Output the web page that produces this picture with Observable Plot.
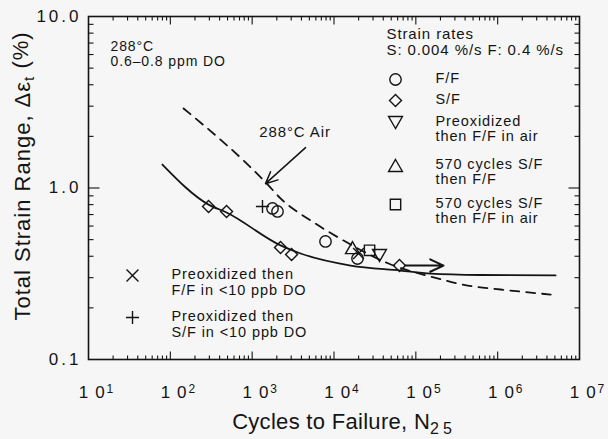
<!DOCTYPE html>
<html><head><meta charset="utf-8">
<script src="https://cdn.jsdelivr.net/npm/d3@7"></script>
<script src="https://cdn.jsdelivr.net/npm/@observablehq/plot@0.6"></script>
<style>
html,body{margin:0;padding:0;background:#f6f6f6;}
</style></head>
<body><div id="chart"></div>
<script>
// ---- data ----
const solidCycles = [80, 293, 486, 2220, 3910, 15960, 65200, 151700, 619000, 5100000];
const solidStrain = [1.37, 0.80, 0.72, 0.463, 0.415, 0.353, 0.330, 0.317, 0.311, 0.309];

const airCycles = [145, 1540, 2220, 5640, 13100, 46400, 165000, 430000, 1090000, 4450000];
const airStrain = [2.91, 1.05, 0.87, 0.63, 0.494, 0.363, 0.301, 0.270, 0.256, 0.239];

const ffCycles = [1773, 2040, 7870, 19370];
const ffStrain = [0.76, 0.73, 0.488, 0.388];

const sfCycles = [293, 486, 2220, 3030, 63100];
const sfStrain = [0.78, 0.73, 0.45, 0.41, 0.353];

const preoxAirCycles = [35950];
const preoxAirStrain = [0.415];

const cyc570FFCycles = [16800];
const cyc570FFStrain = [0.437];

const cyc570AirCycles = [27200];
const cyc570AirStrain = [0.433];

const preoxFFLowCycles = [19950];
const preoxFFLowStrain = [0.415];

const preoxSFLowCycles = [1337];
const preoxSFLowStrain = [0.78];

const runoutStart = [63100];
const runoutEnd = [217800];
const runoutStrain = [0.353];

const airArrowFrom = [4490, 1.72];
const airArrowTo = [1455, 1.06];
const airLabel = ["288°C Air"];
const airLabelAt = [3340, 2.11];

const xTickValues = [1e1, 1e2, 1e3, 1e4, 1e5, 1e6, 1e7];
const xTickExps = ["1", "2", "3", "4", "5", "6", "7"];
const yTickValues = [0.1, 1, 10];
const yTickLabels = ["0.1", "1.0", "10.0"];

const xTitle = "Cycles to Failure, N25";
const yTitle = "Total Strain Range, Δεt (%)";
const condLines = ["288°C", "0.6–0.8 ppm DO"];
const rateLines = ["Strain rates", "S: 0.004 %/s F: 0.4 %/s"];
const legendTop = [
  {symbol: "circle", label: "F/F"},
  {symbol: "diamond2", label: "S/F"},
  {symbol: "triangle2", rotate: 180, label: "Preoxidized\nthen F/F in air"},
  {symbol: "triangle2", label: "570 cycles S/F\nthen F/F"},
  {symbol: "square2", label: "570 cycles S/F\nthen F/F in air"}
];
const legendBottom = [
  {symbol: "times", label: "Preoxidized then\nF/F in <10 ppb DO"},
  {symbol: "plus", label: "Preoxidized then\nS/F in <10 ppb DO"}
];

// ---- helpers ----
const INK = "#141414";
const BG = "#f6f6f6";
const FONT = '"Liberation Sans", Arial, Helvetica, sans-serif';
const W = 608, H = 439, ML = 88, MR = 29, MT = 16, MB = 80;
const pts = (c, s) => c.map((v, i) => ({c: v, s: s[i]}));
const tk = (dx, dy) => ({draw(ctx) { ctx.moveTo(0, 0); ctx.lineTo(dx, dy); }});
const at = (px, py) => ({frameAnchor: "top-left", dx: px - ML, dy: py - MT});

const xMinor = [], yMinor = [];
for (let e = 1; e < 7; e++) for (let k = 2; k < 10; k++) xMinor.push(k * 10 ** e);
for (let e = -1; e < 1; e++) for (let k = 2; k < 10; k++) yMinor.push(k * 10 ** e);
const xMajorInner = xTickValues.slice(1, -1);
const yMajorInner = yTickValues.slice(1, -1);

const tickStyle = {stroke: INK, fill: "none", strokeWidth: 1.1};
const mk = {stroke: INK, fill: "none", strokeWidth: 1.4};

const marks = [
  Plot.frame({stroke: INK, strokeWidth: 1.6}),
  Plot.dot(xMinor, {x: d => d, frameAnchor: "bottom", symbol: tk(0, -4), ...tickStyle}),
  Plot.dot(xMinor, {x: d => d, frameAnchor: "top", symbol: tk(0, 4), ...tickStyle}),
  Plot.dot(xMajorInner, {x: d => d, frameAnchor: "bottom", symbol: tk(0, -8), ...tickStyle}),
  Plot.dot(xMajorInner, {x: d => d, frameAnchor: "top", symbol: tk(0, 8), ...tickStyle}),
  Plot.dot(yMinor, {y: d => d, frameAnchor: "left", symbol: tk(5, 0), ...tickStyle}),
  Plot.dot(yMinor, {y: d => d, frameAnchor: "right", symbol: tk(-5, 0), ...tickStyle}),
  Plot.dot(yMajorInner, {y: d => d, frameAnchor: "left", symbol: tk(11, 0), ...tickStyle}),
  Plot.dot(yMajorInner, {y: d => d, frameAnchor: "right", symbol: tk(-11, 0), ...tickStyle}),

  Plot.text(xTickValues, {x: d => d, frameAnchor: "bottom", dy: 33, dx: 8, text: (d, i) => "10" + xTickExps[i],
    fontSize: 17, fill: INK, lineAnchor: "middle", textAnchor: "middle"}),
  Plot.text(yTickValues, {y: d => d, frameAnchor: "left", dx: -7, textAnchor: "end", text: (d, i) => yTickLabels[i],
    fontSize: 17, fill: INK, lineAnchor: "middle"}),
  Plot.text([xTitle], {frameAnchor: "bottom", dy: 62, dx: 10, fontSize: 22, fill: INK, lineAnchor: "middle", textAnchor: "middle"}),
  Plot.text([yTitle], {frameAnchor: "middle", fontSize: 22, fill: INK, lineAnchor: "middle", textAnchor: "middle"}),

  Plot.line(pts(solidCycles, solidStrain), {x: "c", y: "s", curve: "monotone-x", stroke: INK, strokeWidth: 1.8}),
  Plot.line(pts(airCycles, airStrain), {x: "c", y: "s", curve: "monotone-x", stroke: INK, strokeWidth: 1.8, strokeDasharray: "9,7"}),

  Plot.dot(pts(ffCycles, ffStrain), {x: "c", y: "s", symbol: "circle", r: 5.7, ...mk}),
  Plot.dot(pts(sfCycles, sfStrain), {x: "c", y: "s", symbol: "diamond2", r: 5.4, ...mk}),
  Plot.dot(pts(preoxAirCycles, preoxAirStrain), {x: "c", y: "s", symbol: "triangle2", rotate: 180, r: 6.6, ...mk}),
  Plot.dot(pts(cyc570FFCycles, cyc570FFStrain), {x: "c", y: "s", symbol: "triangle2", r: 6.6, ...mk}),
  Plot.dot(pts(cyc570AirCycles, cyc570AirStrain), {x: "c", y: "s", symbol: "square2", r: 6.6, ...mk}),
  Plot.dot(pts(preoxFFLowCycles, preoxFFLowStrain), {x: "c", y: "s", symbol: "times", r: 5, ...mk}),
  Plot.dot(pts(preoxSFLowCycles, preoxSFLowStrain), {x: "c", y: "s", symbol: "plus", r: 4.3, ...mk}),

  Plot.arrow(runoutStart.map((v, i) => ({x1: v, x2: runoutEnd[i], y: runoutStrain[i]})),
    {x1: "x1", x2: "x2", y1: "y", y2: "y", stroke: INK, strokeWidth: 2, headLength: 14, headAngle: 50, insetStart: 6}),
  Plot.arrow([{x1: airArrowFrom[0], y1: airArrowFrom[1], x2: airArrowTo[0], y2: airArrowTo[1]}],
    {x1: "x1", y1: "y1", x2: "x2", y2: "y2", stroke: INK, strokeWidth: 1.5, headLength: 13, headAngle: 50}),
  Plot.text(airLabel, {x: () => airLabelAt[0], y: () => airLabelAt[1], fontSize: 15, fill: INK, lineAnchor: "middle"}),

  Plot.text([condLines.join("\n")], {...at(110, 40), textAnchor: "start", lineAnchor: "top", lineHeight: 1.07, fontSize: 14, fill: INK}),
  Plot.text([rateLines.join("\n")], {...at(386, 26), textAnchor: "start", lineAnchor: "top", lineHeight: 1.13, fontSize: 15, fill: INK})
];

const topRows = [79, 100, 122, 165, 204];
legendTop.forEach((e, i) => {
  const tri = e.symbol === "triangle2" ? (e.rotate ? -2 : 2) : 0;
  marks.push(Plot.dot([0], {...at(395, topRows[i] + tri), symbol: e.symbol, rotate: e.rotate || 0,
    r: e.symbol === "circle" ? 5.7 : e.symbol === "diamond2" ? 5.4 : 6.6, ...mk}));
  marks.push(Plot.text([e.label], {...at(435, topRows[i] - 7.5), textAnchor: "start", lineAnchor: "top", lineHeight: 1.05,
    fontSize: 14.5, fill: INK}));
});
const botRows = [275, 317];
legendBottom.forEach((e, i) => {
  marks.push(Plot.dot([0], {...at(132, botRows[i]), symbol: e.symbol, r: e.symbol === "times" ? 5.5 : 4.3, ...mk}));
  marks.push(Plot.text([e.label], {...at(171, botRows[i] - 7.5), textAnchor: "start", lineAnchor: "top", lineHeight: 1.1,
    fontSize: 14.5, fill: INK}));
});

const chart = Plot.plot({
  width: W, height: H,
  marginLeft: ML, marginRight: MR, marginTop: MT, marginBottom: MB,
  x: {type: "log", domain: [10, 1e7], axis: null},
  y: {type: "log", domain: [0.1, 10], axis: null},
  style: {background: BG, fontFamily: FONT, color: INK, letterSpacing: "0.9px"},
  marks
});
document.getElementById("chart").appendChild(chart);

// ---- typographic refinements (sub/superscripts, spacing) ----
const svgEl = chart.tagName.toLowerCase() === "svg" ? chart : chart.querySelector("svg");
const root = d3.select(svgEl);
root.selectAll("text").each(function() {
  const t = d3.select(this);
  const s = this.textContent;
  if (/^10[1-7]$/.test(s)) {
    t.text(null);
    t.append("tspan").text("1");
    t.append("tspan").attr("dx", 6).text("0");
    t.append("tspan").attr("font-size", 12).attr("dy", "-0.45em").attr("dx", 1).text(s.slice(2));
  } else if (yTickLabels.includes(s)) {
    t.style("letter-spacing", "3px");
  } else if (s === xTitle) {
    t.style("letter-spacing", "0.3px");
    t.text(null);
    t.append("tspan").text("Cycles to Failure, N");
    t.append("tspan").attr("font-size", 16).attr("dy", "0.35em").style("letter-spacing", "4px").text("25");
  } else if (s === yTitle) {
    // rotate the y-axis title beside the frame
    const g = this.parentNode;
    const node = this;
    svgEl.appendChild(node);
    if (g && g.childNodes.length === 0) g.remove();
    t.attr("x", null).attr("y", null)
     .attr("font-size", 22).attr("fill", INK)
     .attr("text-anchor", "middle")
     .attr("transform", "translate(22,176) rotate(-90)")
     .style("letter-spacing", "1px");
    t.text(null);
    t.append("tspan").attr("dy", "0.35em").text("Total Strain Range, Δε");
    t.append("tspan").attr("font-size", 15).attr("dy", "0.3em").text("t");
    t.append("tspan").attr("dy", "-0.3em").text(" (%)");
  }
});
</script>
</body></html>
